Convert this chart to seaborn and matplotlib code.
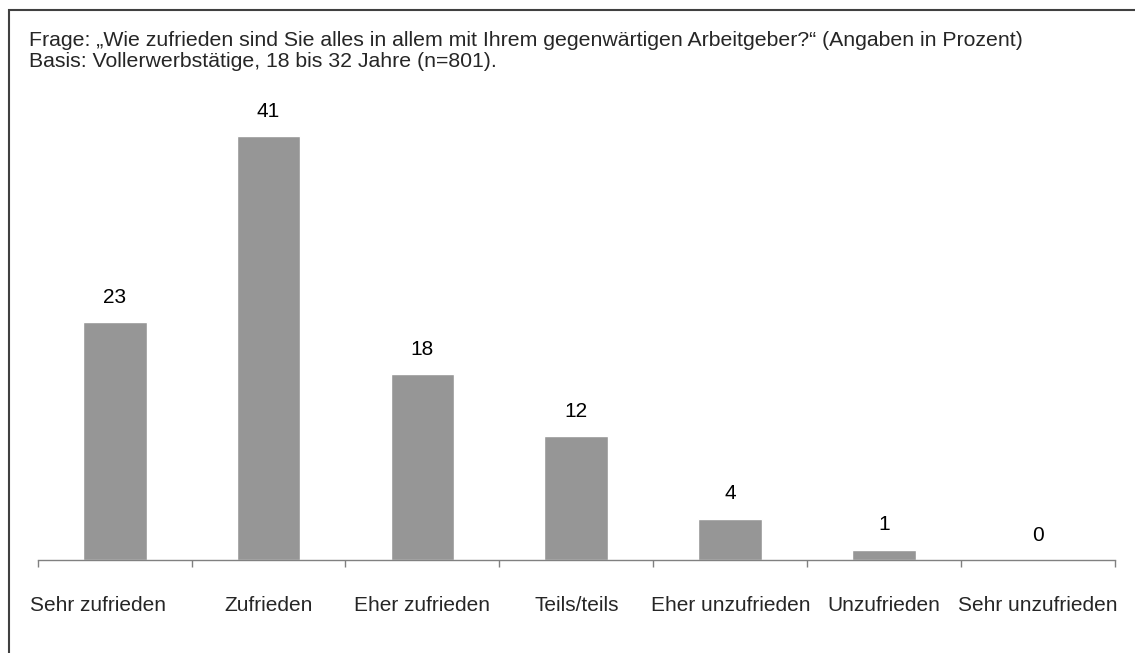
import matplotlib
matplotlib.use('Agg')
import matplotlib.pyplot as plt
from matplotlib.patches import Rectangle
import matplotlib.transforms as mtransforms
import numpy as np
import pandas as pd
import seaborn as sns

# Daten aus der Grafik
kategorien = ['Sehr zufrieden', 'Zufrieden', 'Eher zufrieden', 'Teils/teils',
              'Eher unzufrieden', 'Unzufrieden', 'Sehr unzufrieden']
prozent = [23, 41, 18, 12, 4, 1, 0]
titel_zeilen = ['Frage: \u201eWie zufrieden sind Sie alles in allem mit Ihrem gegenwärtigen Arbeitgeber?\u201c (Angaben in Prozent)',
                'Basis: Vollerwerbstätige, 18 bis 32 Jahre (n=801).']

sns.set_style('white')
plt.rcParams['font.family'] = ['Liberation Sans', 'DejaVu Sans']

df = pd.DataFrame({'kategorie': kategorien, 'prozent': prozent})

fig = plt.figure(figsize=(11.35, 6.53), dpi=100)
ax = fig.add_axes([0.0332, 0.1424, 0.9492, 0.712])

sns.barplot(data=df, x='kategorie', y='prozent', color='#969696', saturation=1,
            width=0.415, ax=ax)
ax.set_xlim(-0.5, 6.5)
ax.set_ylim(0, 45)

# Werte über den Balken
for i, v in enumerate(prozent):
    ax.annotate(str(v), (i, v), xytext=(0, 18), textcoords='offset points',
                ha='center', va='center', fontsize=15, color='black')

# Achse: Striche zwischen den Kategorien, Beschriftung in der Mitte
ax.set_xticks(np.arange(-0.5, 7, 1))
ax.set_xticklabels([])
ax.set_xticks(range(7), minor=True)
ax.set_xticklabels(kategorien, minor=True, fontsize=15)
ax.tick_params(axis='x', which='major', direction='out', length=5, width=1, color='#808080', bottom=True)
ax.tick_params(axis='x', which='minor', length=0, pad=26)
ax.set_yticks([])
ax.set_xlabel('')
ax.set_ylabel('')
for s in ['top', 'left', 'right']:
    ax.spines[s].set_visible(False)
ax.spines['bottom'].set_color('#808080')
ax.spines['bottom'].set_linewidth(1)

# erste Beschriftung sitzt im Original etwas weiter links
erste = ax.get_xticklabels(minor=True)[0]
erste.set_transform(erste.get_transform() + mtransforms.ScaledTranslation(-17 / 100, 0, fig.dpi_scale_trans))

# Titel
fig.text(29 / 1135, 1 - 46 / 653, titel_zeilen[0], fontsize=15.3, va='baseline', ha='left')
fig.text(29 / 1135, 1 - 67 / 653, titel_zeilen[1], fontsize=15.3, va='baseline', ha='left')

# Rahmen
fig.patches.append(Rectangle((9 / 1135, -0.1), 1.2, 1.1 - 10 / 653, transform=fig.transFigure,
                             fill=False, edgecolor='#404040', linewidth=1.5))

fig.savefig('out.png', dpi=100)
